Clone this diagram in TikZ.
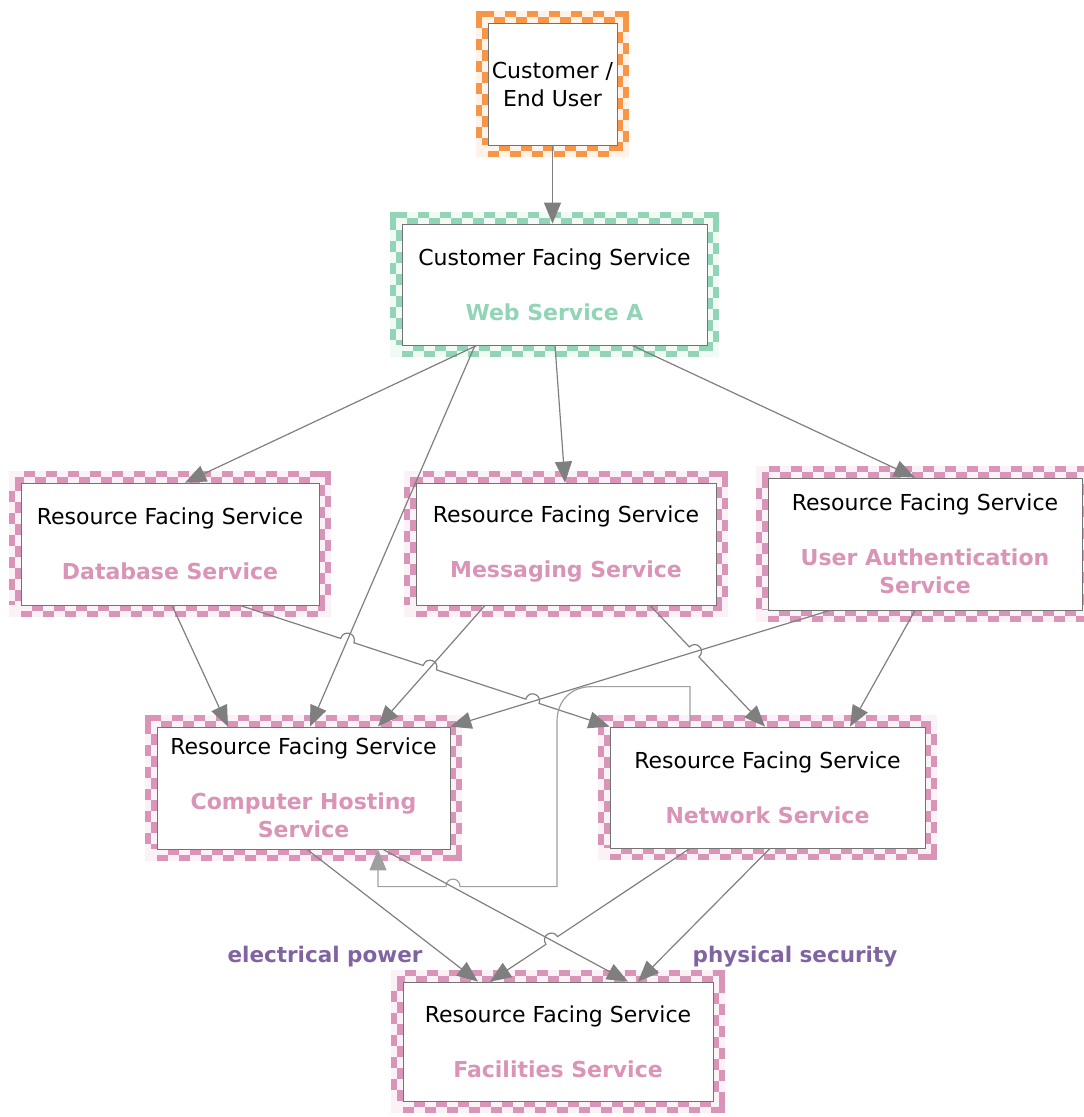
\documentclass[tikz,border=0pt]{standalone}
\usepackage{fontspec}
\setmainfont{DejaVu Sans}
\usepackage{tikz}
\usetikzlibrary{arrows.meta,calc}
\definecolor{cust}{HTML}{F79646}
\definecolor{cfs}{HTML}{92D4B6}
\definecolor{rfs}{HTML}{D994B7}
\definecolor{tagc}{HTML}{8064A2}
\definecolor{wire}{HTML}{7F7F7F}
\newcommand{\svcname}[2]{\textcolor{#1}{\bfseries #2}}

\begin{document}
\begin{tikzpicture}[
  x=1pt, y=-1pt,
  checker/.style={
    preaction={draw=#1!12, line width=24pt},
    preaction={draw=#1, line width=24pt, dash pattern=on 11pt off 11pt},
    preaction={draw=#1!12, line width=12pt, dash pattern=on 11pt off 11pt},
    preaction={draw=#1, line width=12pt, dash pattern=on 11pt off 11pt, dash phase=11pt}},
  svc/.style={checker=#1, draw=black!55, line width=0.8pt, fill=white, align=center, inner sep=0pt, font=\fontsize{22}{28}\selectfont},
  link/.style={draw=wire, line width=1.2pt, -{Triangle[length=21pt, width=17pt]}},
  hop/.style={to path={.. controls ($(\tikztostart)!10pt!90:(\tikztotarget)$) and ($(\tikztotarget)!10pt!-90:(\tikztostart)$) .. (\tikztotarget)}},
  hopback/.style={to path={.. controls ($(\tikztostart)!10pt!-90:(\tikztotarget)$) and ($(\tikztotarget)!10pt!90:(\tikztostart)$) .. (\tikztotarget)}},
  edgetag/.style={font=\fontsize{21.5}{28}\selectfont\bfseries, text=tagc},
]
  \useasboundingbox (0,0) rectangle (1084,1117);

  % Customer
  \node[svc=cust, minimum width=129pt, minimum height=122pt] (user) at (552.5,84) {Customer /\\End User};

  % Customer facing service
  \node[svc=cfs, minimum width=305pt, minimum height=121pt] (web) at (554.5,284.5)
    {Customer Facing Service\\[27pt]\svcname{cfs}{Web Service A}};

  % Resource facing services, upper row
  \node[svc=rfs, minimum width=298pt, minimum height=122pt] (db) at (170,544)
    {Resource Facing Service\\[27pt]\svcname{rfs}{Database Service}};
  \node[svc=rfs, minimum width=300pt, minimum height=122pt] (msg) at (566,544)
    {Resource Facing Service\\[27pt]\svcname{rfs}{Messaging Service}};
  \node[svc=rfs, minimum width=314pt, minimum height=132pt] (auth) at (925,544)
    {Resource Facing Service\\[27pt]\svcname{rfs}{User Authentication}\\\svcname{rfs}{Service}};

  % Resource facing services, lower rows
  \node[svc=rfs, minimum width=293pt, minimum height=122pt] (host) at (303.5,788)
    {Resource Facing Service\\[27pt]\svcname{rfs}{Computer Hosting}\\\svcname{rfs}{Service}};
  \node[svc=rfs, minimum width=315pt, minimum height=121pt] (net) at (767.5,787.5)
    {Resource Facing Service\\[27pt]\svcname{rfs}{Network Service}};
  \node[svc=rfs, minimum width=310pt, minimum height=119pt] (fac) at (558,1041.5)
    {Resource Facing Service\\[27pt]\svcname{rfs}{Facilities Service}};

  % Labels
  \node[edgetag] (power) at (325,957) {electrical power};
  \node[edgetag] (security) at (795,957) {physical security};

  % Jump points
  \coordinate (dbOut) at ([xshift=70pt]db.south);
  \coordinate (j1) at ($(dbOut)!0.2723!(net.north west)$);
  \coordinate (j2) at ($(dbOut)!0.3083!(net.north west)$);
  \coordinate (j3) at ($(dbOut)!0.4956!(net.north west)$);
  \coordinate (j4) at ($(dbOut)!0.5316!(net.north west)$);
  \coordinate (j5) at ($(dbOut)!0.7732!(net.north west)$);
  \coordinate (j6) at ($(dbOut)!0.8092!(net.north west)$);
  \coordinate (msgOut) at ([xshift=84pt]msg.south);
  \coordinate (netIn) at ([xshift=-2.5pt]net.north);
  \coordinate (k1) at ($(msgOut)!0.3421!(netIn)$);
  \coordinate (k2) at ($(msgOut)!0.4255!(netIn)$);
  \coordinate (netOut) at ([xshift=-77.5pt]net.south);
  \coordinate (facIn) at ([xshift=-68pt]fac.north);
  \coordinate (m1) at ($(netOut)!0.6621!(facIn)$);
  \coordinate (m2) at ($(netOut)!0.7203!(facIn)$);

  % Arrows
  \draw[link] (user.south) -- (user.south |- web.north);
  \draw[link] ([xshift=-77.5pt]web.south) -- ([xshift=15pt]db.north);
  \draw[link] ([xshift=-79.5pt]web.south) -- ([xshift=6.5pt]host.north);
  \draw[link] ([xshift=0.5pt]web.south) -- ([xshift=-1pt]msg.north);
  \draw[link] ([xshift=77.5pt]web.south) -- ([xshift=-10pt]auth.north);
  \draw[link] ([xshift=2pt]db.south) -- ([xshift=-75.5pt]host.north);
  \draw[link] (dbOut) -- (j1) to[hop] (j2) -- (j3) to[hop] (j4) -- (j5) to[hop] (j6) -- (net.north west);
  \draw[link] ([xshift=-81pt]msg.south) -- ([xshift=74.5pt]host.north);
  \draw[link] (msgOut) -- (k1) to[hop] (k2) -- (netIn);
  \draw[link] ([xshift=-95pt]auth.south) -- (host.north east);
  \draw[link] ([xshift=-10pt]auth.south) -- ([xshift=82.5pt]net.north);
  \draw[link, draw=wire!75] ([xshift=-77.5pt]net.north) -- ++(0,-40) -- ++(-98,0)
    .. controls +(-21,0) and +(0,-21) .. ++(-35,35) -- ++(0,165) -- ++(-97,0)
    .. controls +(0,-10) and +(0,-10) .. ++(-14,0) -- ++(-68,0) -- ([xshift=74.5pt]host.south);
  \draw[link] ([xshift=3.5pt]host.south) -- ([xshift=-80pt]fac.north);
  \draw[link] ([xshift=79.5pt]host.south) -- ([xshift=70pt]fac.north);
  \draw[link] (netOut) -- (m1) to[hopback] (m2) -- (facIn);
  \draw[link] ([xshift=2.5pt]net.south) -- ([xshift=80pt]fac.north);
\end{tikzpicture}
\end{document}
